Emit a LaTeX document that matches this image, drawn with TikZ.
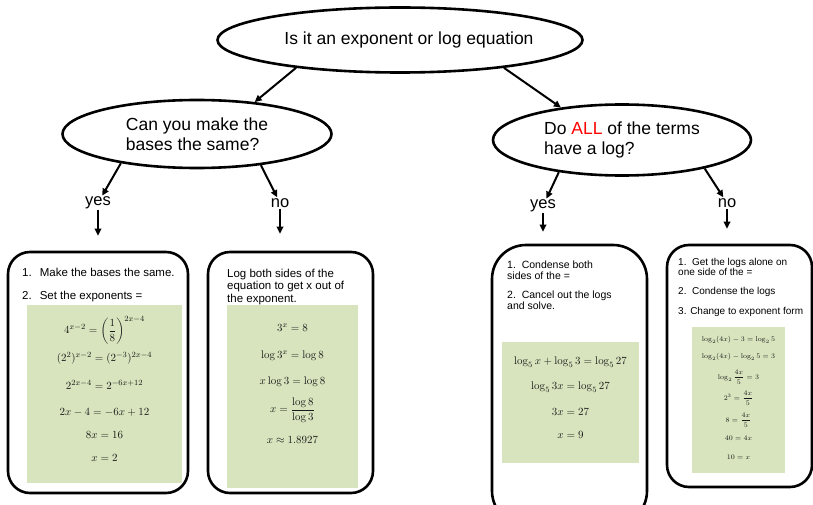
\documentclass[tikz,border=0pt]{standalone}
\usepackage[no-math]{fontspec}
\setmainfont{Liberation Sans}
\usepackage{amsmath}
\usetikzlibrary{arrows.meta}
\usetikzlibrary{shapes.geometric}
\definecolor{palegreen}{RGB}{215,228,189}
\colorlet{eqgray}{black!90}

\begin{document}
\begin{tikzpicture}[x=1pt,y=-1pt,
	question/.style={ellipse,draw,line width=2.6pt,inner sep=0pt,align=left,font=\fontsize{17.5}{20.5}\selectfont},
	answer/.style={inner sep=1pt,font=\fontsize{16.5}{18}\selectfont},
	arr/.style={line width=2pt,-{Triangle[length=7pt,width=6.5pt]}},
	card/.style={draw,line width=2.6pt,rounded corners=22pt,inner sep=0pt},
	work/.style={fill=palegreen,inner sep=0pt},
	steptext/.style={anchor=west,inner sep=0pt,align=left},
	eq/.style={inner sep=0pt,text=eqgray,font=\fontsize{11}{13}\selectfont}]
	\useasboundingbox (0,0) rectangle (813,505);

	% questions
	\node[question,inner xsep=-15pt,minimum width=365pt,minimum height=65pt] (kindq) at (400,40) {\hspace{18pt}Is it an exponent or log equation};
	\node[question,minimum width=269pt,minimum height=68pt] (basesq) at (197,134) {Can you make the\\bases the same?};
	\node[question,minimum width=258pt,minimum height=71pt] (logsq) at (622,140) {Do \textcolor{red}{ALL} of the terms\\have a log?};
	\draw[arr] (kindq.195) -- (basesq.29);
	\draw[arr] (kindq.-15) -- (logsq.152);

	% answers
	\node[answer] (yesA) at (98,203) {yes};
	\node[answer] (noA) at (280,203) {no};
	\node[answer] (yesB) at (543,206) {yes};
	\node[answer] (noB) at (727,203) {no};
	\draw[arr] (basesq.201) -- (yesA);
	\draw[arr] (basesq.-26) -- (noA);
	\draw[arr] (logsq.207) -- (yesB);
	\draw[arr] (logsq.-19) -- (noB);

	% cards
	\node[card,minimum width=180pt,minimum height=241pt] (cardA) at (98,372.5) {};
	\node[card,minimum width=165pt,minimum height=241pt] (cardB) at (290.5,372.5) {};
	\node[card,rounded corners=34pt,minimum width=155pt,minimum height=280pt] (cardC) at (569.5,385) {};
	\node[card,minimum width=145pt,minimum height=242pt] (cardD) at (739.5,366) {};
	\draw[arr,shorten >=15pt] (yesA) -- (yesA |- cardA.north);
	\draw[arr,shorten >=17pt] (noA) -- (noA |- cardB.north);
	\draw[arr,shorten >=12pt] (yesB) -- (yesB |- cardC.north);
	\draw[arr,shorten >=15pt] (noB) -- (noB |- cardD.north);

	% same bases
	\begin{scope}[font=\fontsize{11.5}{12.5}\selectfont]
		\node[steptext] (makeA) at (22,272) {1.\hspace{8pt}Make the bases the same.};
		\node[steptext] (setA) at (22,297) {2.\hspace{8pt}Set the exponents =};
		\node[steptext] (logB) at (227,287) {Log both sides of the\\equation to get x out of\\the exponent.};
	\end{scope}
	\node[work,minimum width=155pt,minimum height=178pt] (workA) at (104.5,394) {};
	\foreach \y/\e in {330/{4^{x-2}=\left(\dfrac{1}{8}\right)^{2x-4}},358/{(2^2)^{x-2}=(2^{-3})^{2x-4}},
		385/{2^{2x-4}=2^{-6x+12}},412/{2x-4=-6x+12},435/{8x=16},458/{x=2}}
		\node[eq] at (104.5,\y) {$\e$};

	% log both sides
	\node[work,minimum width=131pt,minimum height=183pt] (workB) at (292.5,396.5) {};
	\foreach \y/\e in {328/{3^x=8},356/{\log 3^x=\log 8},382/{x\log 3=\log 8},
		410/{x=\dfrac{\log 8}{\log 3}},440/{x\approx 1.8927}}
		\node[eq] at (292.5,\y) {$\e$};

	% all logs
	\begin{scope}[font=\fontsize{10.5}{11}\selectfont]
		\node[steptext] (condC) at (507,270) {1.\ \ Condense both\\sides of the =};
		\node[steptext] (cancelC) at (507,300) {2.\ \ Cancel out the logs\\and solve.};
	\end{scope}
	\begin{scope}[font=\fontsize{10}{10.5}\selectfont]
		\node[steptext] (aloneD) at (678,267) {1.\ \ Get the logs alone on\\one side of the =};
		\node[steptext] (condD) at (678,292) {2.\ \ Condense the logs};
		\node[steptext] (changeD) at (678,312) {3. Change to exponent form};
	\end{scope}
	\node[work,minimum width=137pt,minimum height=121pt] (workC) at (570.5,402.5) {};
	\foreach \y/\e in {362/{\log_5 x+\log_5 3=\log_5 27},387/{\log_5 3x=\log_5 27},412/{3x=27},435/{x=9}}
		\node[eq] at (570.5,\y) {$\e$};

	% not all logs
	\node[work,minimum width=93pt,minimum height=146pt] (workD) at (738.5,400) {};
	\foreach \y/\e in {340/{\log_2(4x)-3=\log_2 5},357/{\log_2(4x)-\log_2 5=3},377/{\log_2\dfrac{4x}{5}=3},
		398/{2^3=\dfrac{4x}{5}},420/{8=\dfrac{4x}{5}},438/{40=4x},457/{10=x}}
		\node[eq,font=\fontsize{6.8}{8}\selectfont] at (738.5,\y) {$\e$};
\end{tikzpicture}
\end{document}
